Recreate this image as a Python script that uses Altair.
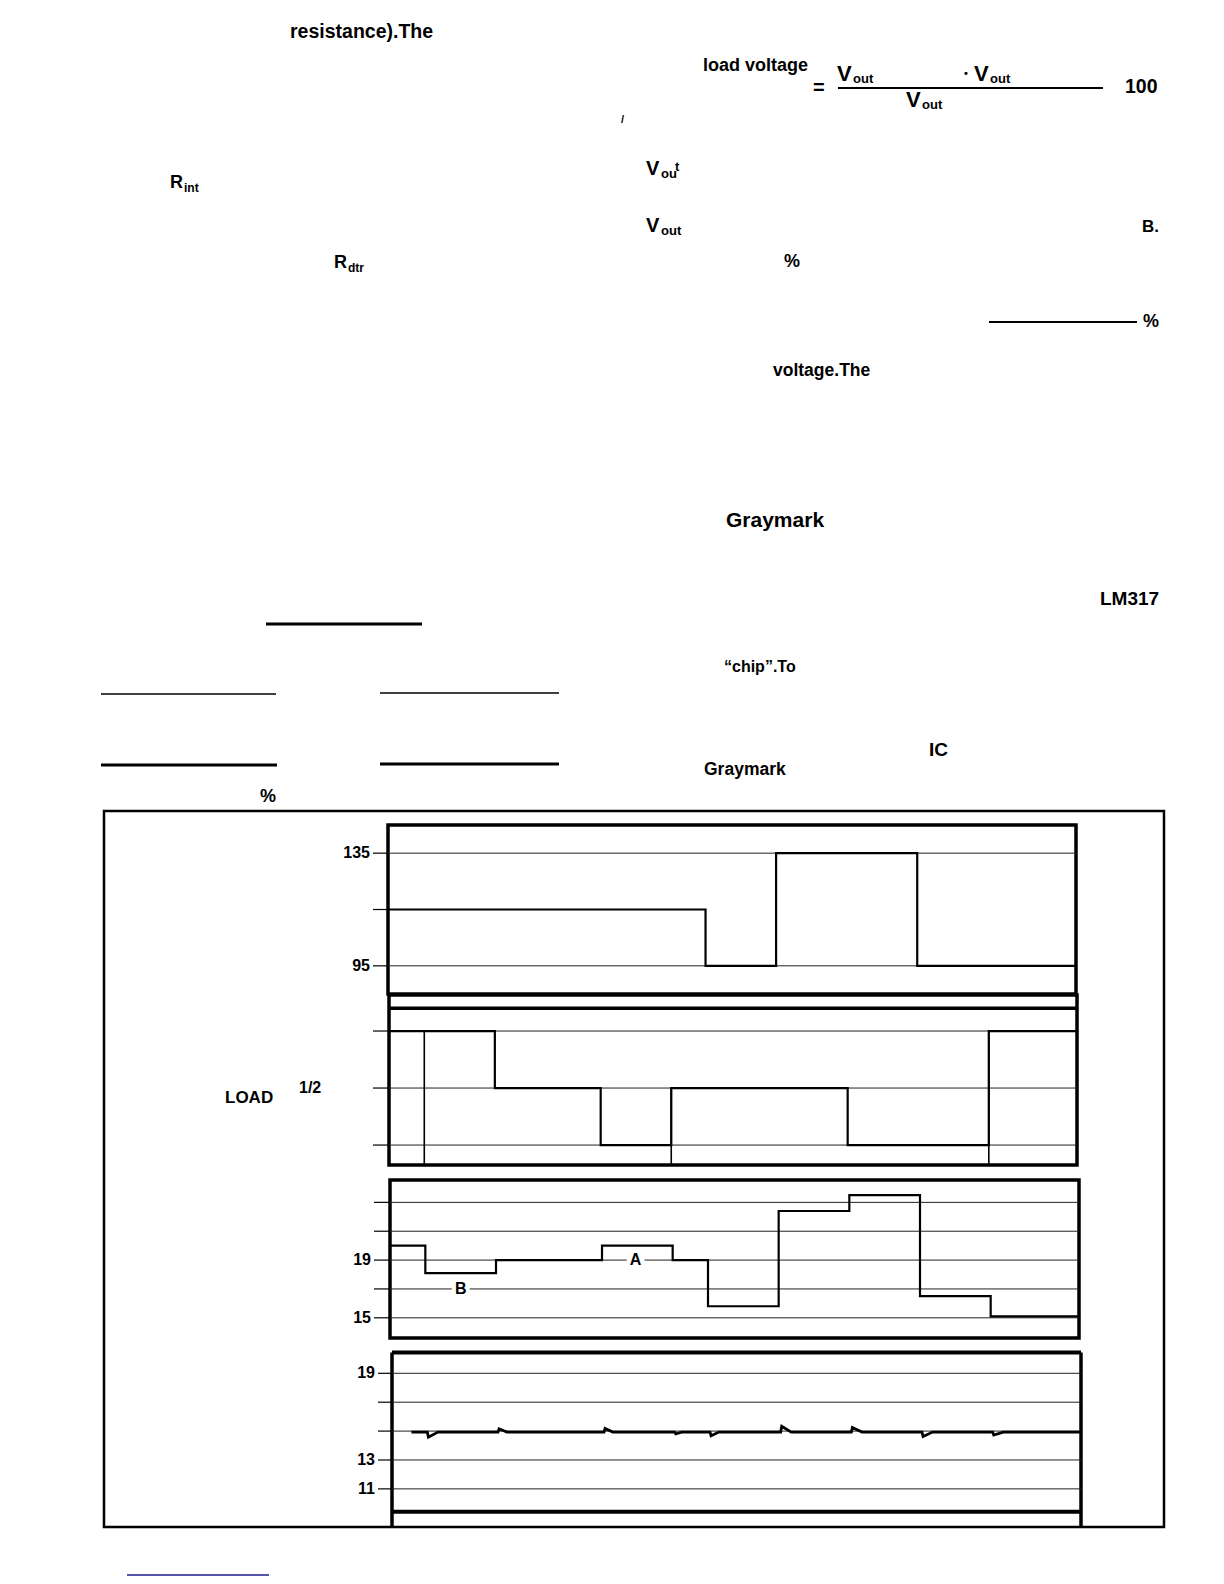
import altair as alt
import pandas as pd

# ---------------- values ----------------
T_END = 19.5
t_steps = [0, 1, 3, 6, 8, 9, 11, 13, 15, 17]
line_voltage = [115, 115, 115, 115, 115, 95, 135, 135, 95, 95]      # panel 1
load_level = [1, 1, 0.5, 0, 0.5, 0.5, 0.5, 0, 0, 1]                 # panel 2 (full, 1/2, none)
unreg_voltage = [20.0, 18.1, 19.0, 20.0, 19.0, 15.8, 22.4, 23.5, 16.5, 15.1]  # panel 3
reg_t = [0.55, 1.0, 1.03, 1.3, 3.0, 3.03, 3.25, 6.0, 6.03, 6.25, 8.0, 8.03, 8.2,
         9.0, 9.03, 9.25, 11.0, 11.03, 11.3, 13.0, 13.03, 13.3, 15.0, 15.03, 15.3,
         17.0, 17.03, 17.3, 19.5]
reg_v = [14.93, 14.93, 14.58, 14.93, 14.93, 15.16, 14.93, 14.93, 15.18, 14.93,
         14.93, 14.81, 14.93, 14.93, 14.68, 14.93, 14.93, 15.33, 14.93, 14.93,
         15.25, 14.93, 14.93, 14.63, 14.93, 14.93, 14.73, 14.93, 14.93]      # panel 4
load_marker_t = [1, 8, 17]
load_marker_from = [1, 0.5, 1]

p1_ticks = [135, 115, 95]
p1_grid = [135, 95]
p1_labels = ["135", "95"]
p1_label_vals = [135, 95]
p2_levels = [1, 0.5, 0]
p3_grid = [23, 21, 19, 17, 15]
p3_labels = ["19", "15"]
p3_label_vals = [19, 15]
p4_grid = [19, 17, 15, 13, 11]
p4_labels = ["19", "13", "11"]
p4_label_vals = [19, 13, 11]
curve_labels = ["A", "B"]
curve_label_t = [6.95, 2.0]
curve_label_v = [19, 17]

# page text fragments (content) and their layout (x, baseline y, font size)
page_text = ["resistance).The", "load voltage", "=", "V", "out", "\u2022", "V", "out",
             "V", "out", "100", "/", "V", "ou", "t", "R", "int", "V", "out", "B.",
             "R", "dtr", "%", "%", "voltage.The", "LM317", "\u201cchip\u201d.To", "IC",
             "Graymark", "%", "Graymark", "LOAD", "1/2"]
page_layout = [(290, 38, 19.5), (703, 71, 18), (813, 94, 20), (837, 81, 22), (853, 83, 13),
               (964, 77, 11), (974, 81, 22), (990, 83, 13), (906, 107, 22), (922, 109, 13),
               (1125, 93, 19.5), (621, 123, 11), (646, 175, 20), (661, 178, 13), (675, 171, 13),
               (170, 188, 18), (184, 192, 12), (646, 232, 20), (661, 235, 13), (1142, 232, 17),
               (334, 268, 18), (348, 272, 12), (784, 267, 18), (1143, 327, 18), (773, 376, 17.5),
               (1100, 605, 19), (724, 672, 16), (929, 756, 19), (704, 775, 17.5), (260, 802, 18),
               (726, 527, 21), (225, 1103, 17), (299, 1093, 16)]

# underlines / rules on the page: (x1, x2, y, width, colour)
page_rules = [(838, 1103, 88, 2, "black"), (989, 1137, 322, 2, "black"),
              (266, 422, 624, 3, "black"), (101, 276, 694, 1.5, "black"),
              (380, 559, 693, 1.5, "black"), (101, 277, 765, 3, "black"),
              (380, 559, 764, 3, "black"), (127, 269, 1575, 1.5, "#1c1c8a")]

# ---------------- layout ----------------
OFF = 8
W, H = 1224 - 2 * OFF, 1584 - 2 * OFF
FONT = "Liberation Sans, Arial, Helvetica, sans-serif"

PX = alt.Scale(domain=[0, 1224], range=[-OFF, 1224 - OFF], nice=False, zero=False)
PY = alt.Scale(domain=[0, 1584], range=[-OFF, 1584 - OFF], nice=False, zero=False)


def tx(a, b):
    return alt.Scale(domain=[0, T_END], range=[a - OFF, b - OFF], nice=False, zero=False)


def vy(lo, hi, bottom, top):
    return alt.Scale(domain=[lo, hi], range=[bottom - OFF, top - OFF], nice=False, zero=False)


panels = {
    1: dict(x=tx(388, 1076), y=vy(85, 145, 994, 825), lo=85, hi=145, tick0=373),
    2: dict(x=tx(389, 1077), y=vy(-0.175, 1.316, 1165, 995), lo=-0.175, hi=1.316, tick0=373),
    3: dict(x=tx(390, 1079), y=vy(13.6, 24.55, 1338, 1180), lo=13.6, hi=24.55, tick0=374),
    4: dict(x=tx(392, 1081), y=vy(9.42, 20.44, 1511.7, 1352.5), lo=9.42, hi=20.44, tick0=378),
}
panel_left = {1: 388, 2: 389, 3: 390, 4: 392}

layers = []


def X(field, scale):
    return alt.X(field, type="quantitative", scale=scale, axis=None)


def Y(field, scale):
    return alt.Y(field, type="quantitative", scale=scale, axis=None)


def step_layer(ts, vs, p, width=2.2):
    df = pd.DataFrame({"t": list(ts) + [T_END], "v": list(vs) + [vs[-1]]})
    return alt.Chart(df).mark_line(interpolate="step-after", color="black",
                                   strokeWidth=width, strokeCap="square").encode(
        x=X("t", panels[p]["x"]), y=Y("v", panels[p]["y"]))


def grid_layer(vals, p, color="#222", width=1.0):
    df = pd.DataFrame({"v": vals, "t0": 0, "t1": T_END})
    return alt.Chart(df).mark_rule(color=color, strokeWidth=width).encode(
        x=X("t0", panels[p]["x"]), x2="t1", y=Y("v", panels[p]["y"]))


def tick_layer(vals, p):
    df = pd.DataFrame({"v": vals, "a": panels[p]["tick0"], "b": panel_left[p]})
    return alt.Chart(df).mark_rule(color="black", strokeWidth=1.2).encode(
        x=X("a", PX), x2="b", y=Y("v", panels[p]["y"]))


def label_layer(labels, vals, p):
    df = pd.DataFrame({"txt": labels, "v": vals, "x": panels[p]["tick0"] - 3})
    return alt.Chart(df).mark_text(align="right", baseline="middle", font=FONT,
                                   fontWeight="bold", fontSize=16, color="black").encode(
        x=X("x", PX), y=Y("v", panels[p]["y"]), text="txt:N")


# outer box
outer = pd.DataFrame({"x1": [104], "x2": [1164], "y1": [811], "y2": [1527]})
layers.append(alt.Chart(outer).mark_rect(fill=None, stroke="black", strokeWidth=2.5).encode(
    x=X("x1", PX), x2="x2", y=Y("y1", PY), y2="y2"))

# panel frames
for p in (1, 2, 3):
    fr = pd.DataFrame({"t0": [0], "t1": [T_END], "lo": [panels[p]["lo"]], "hi": [panels[p]["hi"]]})
    layers.append(alt.Chart(fr).mark_rect(fill=None, stroke="black", strokeWidth=3.5).encode(
        x=X("t0", panels[p]["x"]), x2="t1", y=Y("lo", panels[p]["y"]), y2="hi"))
# inner thick rule at top of the load panel
layers.append(alt.Chart(pd.DataFrame({"v": [1.2], "t0": [0], "t1": [T_END]})).mark_rule(
    color="black", strokeWidth=3.5).encode(x=X("t0", panels[2]["x"]), x2="t1", y=Y("v", panels[2]["y"])))
# panel 4 frame: top / bottom rules and sides running to the outer box
p4h = pd.DataFrame({"v": [20.44, 9.42], "t0": [0, 0], "t1": [T_END, T_END]})
layers.append(alt.Chart(p4h).mark_rule(color="black", strokeWidth=4).encode(
    x=X("t0", panels[4]["x"]), x2="t1", y=Y("v", panels[4]["y"])))
p4v = pd.DataFrame({"t": [0, T_END], "a": [20.44, 20.44], "b": [8.36, 8.36]})
layers.append(alt.Chart(p4v).mark_rule(color="black", strokeWidth=3.5).encode(
    x=X("t", panels[4]["x"]), y=Y("a", panels[4]["y"]), y2="b"))

# gridlines, ticks, labels
layers += [grid_layer(p1_grid, 1), tick_layer(p1_ticks, 1), label_layer(p1_labels, p1_label_vals, 1)]
layers += [grid_layer(p2_levels, 2), tick_layer(p2_levels, 2)]
layers += [grid_layer(p3_grid, 3), tick_layer(p3_grid, 3), label_layer(p3_labels, p3_label_vals, 3)]
layers += [grid_layer(p4_grid, 4), tick_layer(p4_grid, 4), label_layer(p4_labels, p4_label_vals, 4)]

# traces
layers.append(step_layer(t_steps, line_voltage, 1))
layers.append(step_layer(t_steps, load_level, 2))
mk = pd.DataFrame({"t": load_marker_t, "a": load_marker_from, "b": panels[2]["lo"]})
layers.append(alt.Chart(mk).mark_rule(color="black", strokeWidth=1.6).encode(
    x=X("t", panels[2]["x"]), y=Y("a", panels[2]["y"]), y2="b"))
layers.append(step_layer(t_steps, unreg_voltage, 3))
reg = pd.DataFrame({"t": reg_t, "v": reg_v})
layers.append(alt.Chart(reg).mark_line(color="black", strokeWidth=2.8).encode(
    x=X("t", panels[4]["x"]), y=Y("v", panels[4]["y"])))

# curve labels A / B with white backing
cl = pd.DataFrame({"txt": curve_labels, "t": curve_label_t, "v": curve_label_v})
layers.append(alt.Chart(cl).mark_point(shape="square", filled=True, color="white", size=320, opacity=1).encode(
    x=X("t", panels[3]["x"]), y=Y("v", panels[3]["y"])))
layers.append(alt.Chart(cl).mark_text(font=FONT, fontWeight="bold", fontSize=16, baseline="middle",
                                      align="center", color="black").encode(
    x=X("t", panels[3]["x"]), y=Y("v", panels[3]["y"]), text="txt:N"))

# page text
pt = pd.DataFrame({"txt": page_text, "x": [l[0] for l in page_layout],
                   "y": [l[1] for l in page_layout], "s": [l[2] for l in page_layout]})
layers.append(alt.Chart(pt).mark_text(font=FONT, fontWeight="bold", align="left",
                                      baseline="alphabetic", color="black").encode(
    x=X("x", PX), y=Y("y", PY), text="txt:N", size=alt.Size("s:Q", scale=None, legend=None)))

# page rules
pr = pd.DataFrame({"x1": [r[0] for r in page_rules], "x2": [r[1] for r in page_rules],
                   "y": [r[2] for r in page_rules], "w": [r[3] for r in page_rules],
                   "c": [r[4] for r in page_rules]})
layers.append(alt.Chart(pr).mark_rule().encode(
    x=X("x1", PX), x2="x2", y=Y("y", PY),
    strokeWidth=alt.StrokeWidth("w:Q", scale=None, legend=None),
    color=alt.Color("c:N", scale=None, legend=None)))

chart = alt.layer(*layers).resolve_scale(
    x="independent", y="independent", size="independent", color="independent",
    strokeWidth="independent"
).properties(width=W, height=H, padding=0, autosize="none", background="white"
).configure_view(stroke=None)

chart.save("out.html", embed_options={"renderer": "svg", "actions": False})
